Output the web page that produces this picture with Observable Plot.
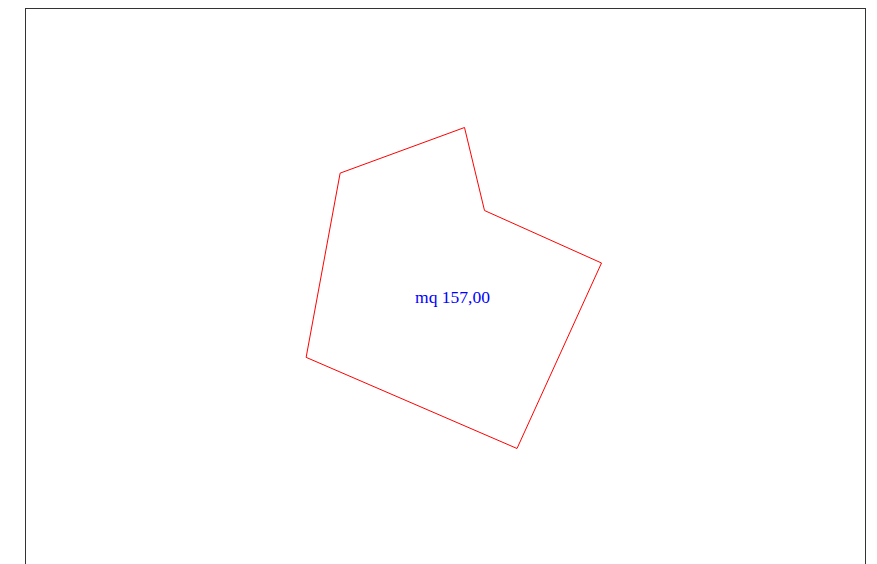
<!DOCTYPE html>
<html>
<head>
<meta charset="utf-8">
<script src="https://cdn.jsdelivr.net/npm/d3@7"></script>
<script src="https://cdn.jsdelivr.net/npm/@observablehq/plot@0.6"></script>
<style>
  html, body { margin: 0; padding: 0; background: #fff; overflow: hidden; }
  #chart { width: 877px; height: 564px; overflow: hidden; }
</style>
</head>
<body>
<div id="chart"></div>
<script>
// Polygon vertices (drawing units, y grows downward)
const vertexX = [340, 464, 484, 601, 516.5, 306];
const vertexY = [172.5, 127, 210, 262.5, 448, 357];
const areaLabel = ["mq 157,00"];
const labelX = [452];
const labelY = [297];

const polygon = vertexX.map((x, i) => ({x, y: vertexY[i]}));
const labels = areaLabel.map((t, i) => ({t, x: labelX[i], y: labelY[i]}));

const chart = Plot.plot({
  width: 877,
  height: 600,
  marginLeft: 25,
  marginRight: 12,
  marginTop: 8,
  marginBottom: 0,
  x: {domain: [0, 877], range: [0, 877], axis: null},
  y: {domain: [0, 600], range: [0, 600], axis: null},
  style: {background: "#fff"},
  marks: [
    Plot.frame({stroke: "#333", strokeWidth: 1}),
    Plot.line(polygon, {x: "x", y: "y", curve: "linear-closed", stroke: "#ff0000", strokeWidth: 1}),
    Plot.text(labels, {x: "x", y: "y", text: "t", fill: "#0000ff", fontSize: 17.5, fontFamily: "Liberation Serif", textAnchor: "middle"})
  ]
});
document.getElementById("chart").appendChild(chart);
</script>
</body>
</html>
